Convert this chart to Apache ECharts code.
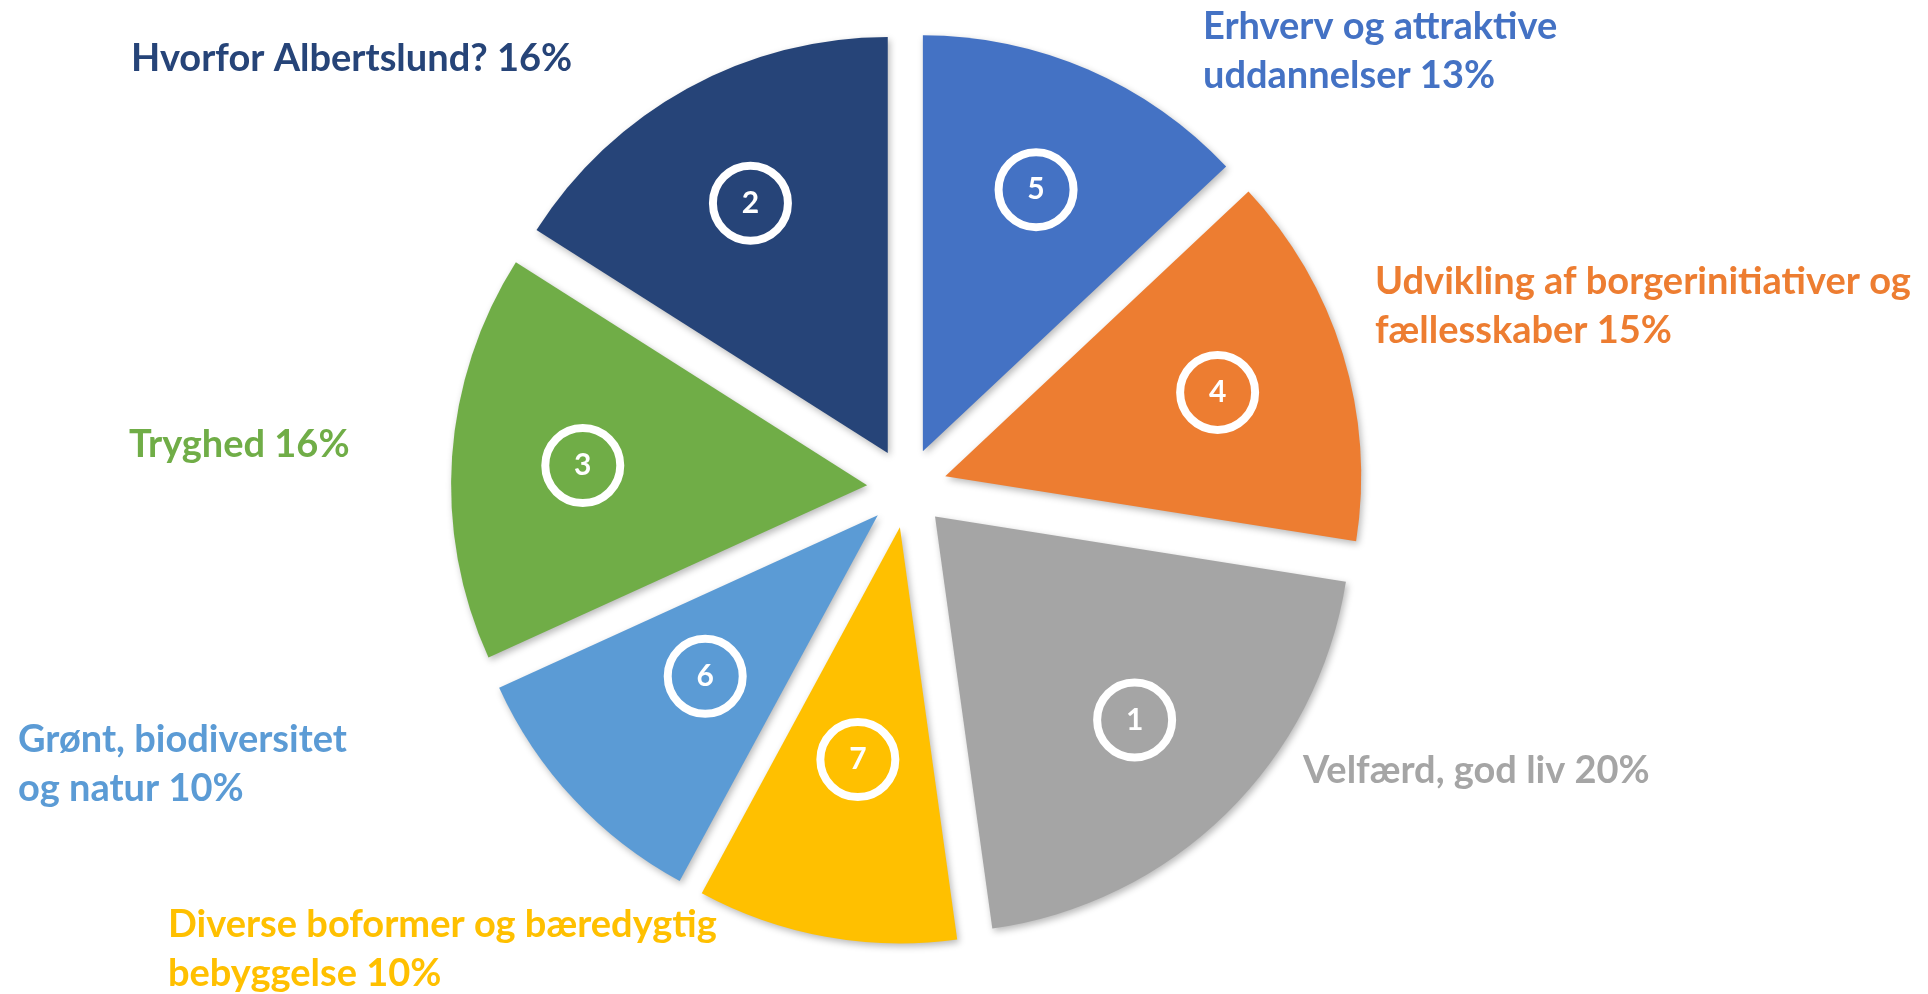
<!DOCTYPE html>
<html>
<head>
<meta charset="utf-8">
<script src="https://cdn.jsdelivr.net/npm/echarts@6/dist/echarts.min.js"></script>
<style>
html, body { margin: 0; padding: 0; background: #ffffff; }
#chart { width: 1928px; height: 994px; }
</style>
</head>
<body>
<div id="chart"></div>
<script>
// ---- data (clockwise from 12 o'clock) ----
const categories = [
  'Erhverv og attraktive\nuddannelser',
  'Udvikling af borgerinitiativer og\nfællesskaber',
  'Velfærd, god liv',
  'Diverse boformer og bæredygtig\nbebyggelse',
  'Grønt, biodiversitet\nog natur',
  'Tryghed',
  'Hvorfor Albertslund?'
];
const values = [13.0, 14.5, 20.3, 10.1, 10.3, 15.8, 16.0];
const shownPercent = [13, 15, 20, 10, 10, 16, 16];
const priorityNumbers = [5, 4, 1, 7, 6, 3, 2];

// ---- styling / layout ----
const colors = ['#4472C4', '#ED7D31', '#A5A5A5', '#FFC000', '#5B9BD5', '#70AD47', '#264478'];
const labelAnchor = [[1203, 51], [1375, 306], [1303, 771], [168, 949], [18, 764], [129, 445], [131, 59]];
const innerRingGroup = [1, 1, 1, 0, 0, 1, 1]; // 0: circle sits closer to the centre
const FONT = 'Lato';
const CENTER = [907, 488];
const RADIUS = 416;
const OFFSET = 40;

const chart = echarts.init(document.getElementById('chart'), null, { renderer: 'canvas' });

const ringStyle = {
  width: 75,
  height: 75,
  lineHeight: 75,
  align: 'center',
  verticalAlign: 'middle',
  borderColor: '#ffffff',
  borderWidth: 8,
  borderRadius: 38,
  color: '#ffffff',
  fontFamily: FONT,
  fontWeight: 'bold',
  fontSize: 30
};

function ringSeries(group, radius) {
  return {
    type: 'pie',
    center: CENTER,
    radius: radius,
    startAngle: 90,
    clockwise: true,
    selectedMode: 'multiple',
    selectedOffset: OFFSET,
    avoidLabelOverlap: false,
    silent: true,
    itemStyle: { color: 'rgba(0,0,0,0)' },
    label: {
      show: true,
      position: 'inside',
      formatter: p => '{c|' + priorityNumbers[p.dataIndex] + '}',
      rich: { c: ringStyle }
    },
    labelLine: { show: false },
    data: values.map((v, i) => ({
      value: v,
      name: categories[i],
      selected: true,
      label: { show: innerRingGroup[i] === group }
    }))
  };
}

chart.setOption({
  animation: false,
  backgroundColor: '#ffffff',
  series: [
    {
      type: 'pie',
      center: CENTER,
      radius: [0, RADIUS],
      startAngle: 90,
      clockwise: true,
      selectedMode: 'multiple',
      selectedOffset: OFFSET,
      avoidLabelOverlap: false,
      silent: true,
      itemStyle: {
        shadowBlur: 7,
        shadowColor: 'rgba(0,0,0,0.28)',
        shadowOffsetX: 2,
        shadowOffsetY: 3
      },
      label: { show: false },
      labelLine: { show: false },
      data: values.map((v, i) => ({
        value: v,
        name: categories[i],
        selected: true,
        itemStyle: { color: colors[i] }
      }))
    },
    ringSeries(1, [232, 332]),
    ringSeries(0, [183, 283]),
    {
      type: 'pie',
      center: CENTER,
      radius: [0, RADIUS],
      startAngle: 90,
      clockwise: true,
      avoidLabelOverlap: false,
      silent: true,
      itemStyle: { color: 'rgba(0,0,0,0)' },
      label: {
        show: true,
        position: 'outside',
        fontFamily: FONT,
        fontWeight: 'bold',
        fontSize: 38,
        lineHeight: 49,
        formatter: p => categories[p.dataIndex] + ' ' + shownPercent[p.dataIndex] + '%'
      },
      labelLine: { show: false },
      labelLayout: params => {
        const a = labelAnchor[params.dataIndex];
        return { x: a[0], y: a[1], align: 'left', verticalAlign: 'middle' };
      },
      data: values.map((v, i) => ({
        value: v,
        name: categories[i],
        label: { color: colors[i] }
      }))
    }
  ]
});
</script>
</body>
</html>
